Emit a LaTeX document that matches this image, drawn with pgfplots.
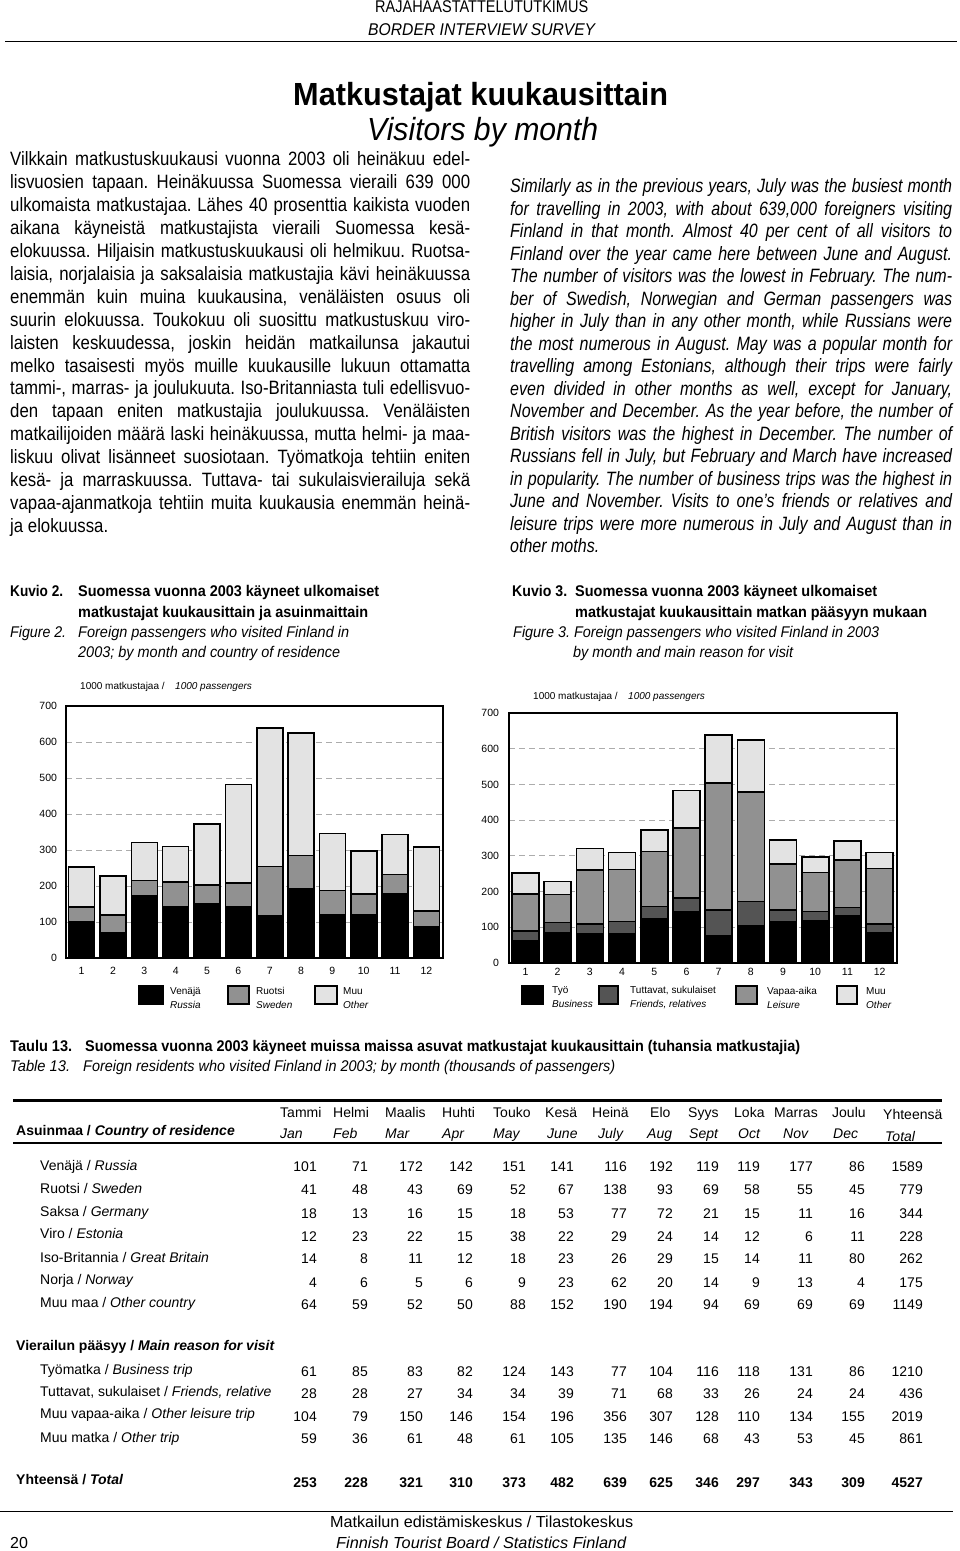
\documentclass[border=0pt]{standalone}
\usepackage{fontspec}
\usepackage{pgfplots}
\pgfplotsset{compat=1.18}
\setmainfont{Liberation Sans}
\newfontfamily\nar[FakeStretch=0.83]{Liberation Sans}
\newfontfamily\narl[FakeStretch=0.87]{Liberation Sans}
\frenchspacing
\definecolor{cgray}{gray}{0.57}
\definecolor{clight}{gray}{0.89}
\definecolor{cdark}{gray}{0.33}
\newsavebox\lbox
\newcommand\fitline[2]{\sbox\lbox{#2}\ifdim\wd\lbox>#1\relax\resizebox{#1}{\ht\lbox}{\usebox\lbox}\else\makebox[#1][s]{#2}\fi}
\newcommand\bodyfont{\fontsize{19.3}{22}\selectfont\nar\frenchspacing}
\newcommand\lbodyfont{\fontsize{19.3}{22}\selectfont\narl\frenchspacing}
\newcommand\lline[2]{\node[anchor=base west,inner sep=0pt,font=\lbodyfont] at (10,#1) {\fitline{460pt}{#2}};}
\newcommand\llast[2]{\node[anchor=base west,inner sep=0pt,font=\lbodyfont] at (10,#1) {#2};}
\newcommand\rline[2]{\node[anchor=base west,inner sep=0pt,font=\bodyfont\itshape] at (510,#1) {\fitline{442pt}{#2}};}
\newcommand\rlast[2]{\node[anchor=base west,inner sep=0pt,font=\bodyfont\itshape] at (510,#1) {#2};}
\newcommand\wtext[4]{\node[anchor=base west,inner sep=0pt,font=#4] at (#1) {\resizebox{#2}{\height}{#3}};}
\newcommand\tfont{\fontsize{14}{16}\selectfont}
\newcommand\trow[6]{%
  \node[anchor=base west,inner sep=0pt,font=\tfont#6] at (40,#1) {#3};
  \foreach \v [count=\i] in {#4} {%
    \pgfmathsetmacro\xx{{317,368,423,473,526,574,627,673,719,760,813,865,923}[\i-1]}
    \node[anchor=base east,inner sep=0pt,font=\tfont#6] at (\xx,#2) {\v};}
}
\begin{document}
\begin{tikzpicture}[x=1pt,y=-1pt]
\path[use as bounding box] (0,0) rectangle (960,1551);
% header
\wtext{375,12}{213pt}{RAJAHAASTATTELUTUTKIMUS}{\fontsize{17}{20}\selectfont\nar}
\wtext{368,35}{227pt}{BORDER INTERVIEW SURVEY}{\fontsize{17}{20}\selectfont\nar\itshape}
\draw[line width=1pt] (5,41) -- (957,41);
% title
\wtext{293,105}{375pt}{Matkustajat kuukausittain}{\fontsize{32}{36}\selectfont\bfseries}
\wtext{367,140}{231pt}{Visitors by month}{\fontsize{32}{36}\selectfont\itshape}
% left text
\lline{165.5}{Vilkkain matkustuskuukausi vuonna 2003 oli heinäkuu edel-}
\lline{188.4}{lisvuosien tapaan. Heinäkuussa Suomessa vieraili 639 000}
\lline{211.4}{ulkomaista matkustajaa. Lähes 40 prosenttia kaikista vuoden}
\lline{234.3}{aikana käyneistä matkustajista vieraili Suomessa kesä-}
\lline{257.3}{elokuussa. Hiljaisin matkustuskuukausi oli helmikuu. Ruotsa-}
\lline{280.2}{laisia, norjalaisia ja saksalaisia matkustajia kävi heinäkuussa}
\lline{303.1}{enemmän kuin muina kuukausina, venäläisten osuus oli}
\lline{326.1}{suurin elokuussa. Toukokuu oli suosittu matkustuskuu viro-}
\lline{349.0}{laisten keskuudessa, joskin heidän matkailunsa jakautui}
\lline{372.0}{melko tasaisesti myös muille kuukausille lukuun ottamatta}
\lline{394.9}{tammi-, marras- ja joulukuuta. Iso-Britanniasta tuli edellisvuo-}
\lline{417.8}{den tapaan eniten matkustajia joulukuussa. Venäläisten}
\lline{440.8}{matkailijoiden määrä laski heinäkuussa, mutta helmi- ja maa-}
\lline{463.7}{liskuu olivat lisänneet suosiotaan. Työmatkoja tehtiin eniten}
\lline{486.7}{kesä- ja marraskuussa. Tuttava- tai sukulaisvierailuja sekä}
\lline{509.6}{vapaa-ajanmatkoja tehtiin muita kuukausia enemmän heinä-}
\llast{532.5}{ja elokuussa.}
% right text
\rline{192.5}{Similarly as in the previous years, July was the busiest month}
\rline{215}{for travelling in 2003, with about 639,000 foreigners visiting}
\rline{237.5}{Finland in that month. Almost 40 per cent of all visitors to}
\rline{260}{Finland over the year came here between June and August.}
\rline{282.5}{The number of visitors was the lowest in February. The num-}
\rline{305}{ber of Swedish, Norwegian and German passengers was}
\rline{327.5}{higher in July than in any other month, while Russians were}
\rline{350}{the most numerous in August. May was a popular month for}
\rline{372.5}{travelling among Estonians, although their trips were fairly}
\rline{395}{even divided in other months as well, except for January,}
\rline{417.5}{November and December. As the year before, the number of}
\rline{440}{British visitors was the highest in December. The number of}
\rline{462.5}{Russians fell in July, but February and March have increased}
\rline{485}{in popularity. The number of business trips was the highest in}
\rline{507.5}{June and November. Visits to one’s friends or relatives and}
\rline{530}{leisure trips were more numerous in July and August than in}
\rlast{552.5}{other moths.}
% captions
\wtext{10,596}{53pt}{Kuvio 2.}{\fontsize{15.5}{18}\selectfont\nar\bfseries}
\wtext{78,596}{301pt}{Suomessa vuonna 2003 käyneet ulkomaiset}{\fontsize{15.5}{18}\selectfont\nar\bfseries}
\wtext{78,617}{290pt}{matkustajat kuukausittain ja asuinmaittain}{\fontsize{15.5}{18}\selectfont\nar\bfseries}
\wtext{10,637}{56pt}{Figure 2.}{\fontsize{15.5}{18}\selectfont\nar\itshape}
\wtext{78,637}{271pt}{Foreign passengers who visited Finland in}{\fontsize{15.5}{18}\selectfont\nar\itshape}
\wtext{78,657}{262pt}{2003; by month and country of residence}{\fontsize{15.5}{18}\selectfont\nar\itshape}
\wtext{512,596}{55pt}{Kuvio 3.}{\fontsize{15.5}{18}\selectfont\nar\bfseries}
\wtext{575,596}{302pt}{Suomessa vuonna 2003 käyneet ulkomaiset}{\fontsize{15.5}{18}\selectfont\nar\bfseries}
\wtext{575,617}{352pt}{matkustajat kuukausittain matkan pääsyyn mukaan}{\fontsize{15.5}{18}\selectfont\nar\bfseries}
\wtext{513,637}{366pt}{Figure 3. Foreign passengers who visited Finland in 2003}{\fontsize{15.5}{18}\selectfont\nar\itshape}
\wtext{573,657}{220pt}{by month and main reason for visit}{\fontsize{15.5}{18}\selectfont\nar\itshape}
% chart 1
\node[anchor=base west,inner sep=0pt,font=\fontsize{10}{12}\selectfont] at (80,689) {1000 matkustajaa /};
\node[anchor=base west,inner sep=0pt,font=\fontsize{10}{12}\selectfont\itshape] at (175,689) {1000 passengers};
\begin{axis}[
  at={(66pt,-958pt)}, anchor=south west,
  scale only axis, width=377pt, height=252pt,
  xmin=0.5, xmax=12.53, ymin=0, ymax=700,
  ybar stacked, bar width=26pt,
  xtick={1,2,...,12}, ytick={0,100,...,700},
  major tick length=0pt,
  ymajorgrids=true,
  grid style={gray!65, dash pattern=on 6pt off 4pt, line width=0.8pt},
  axis line style={line width=1.3pt},
  ticklabel style={font=\fontsize{10.5}{12}\selectfont},
  /pgf/number format/assume math mode=true,
  yticklabel style={xshift=-5.5pt},
  xticklabel style={yshift=-6pt},
]
\addplot[fill=black, draw=black, line width=1.6pt] coordinates {(1,101) (2,71) (3,172) (4,142) (5,151) (6,141) (7,116) (8,192) (9,119) (10,119) (11,177) (12,86)};
\addplot[fill=cgray, draw=black, line width=1.6pt] coordinates {(1,41) (2,48) (3,43) (4,69) (5,52) (6,67) (7,138) (8,93) (9,69) (10,58) (11,55) (12,45)};
\addplot[fill=clight, draw=black, line width=1.6pt] coordinates {(1,111) (2,109) (3,106) (4,99) (5,170) (6,274) (7,385) (8,340) (9,158) (10,120) (11,111) (12,178)};
\end{axis}
% legend 1
\draw[fill=black, line width=1.2pt] (139,986) rectangle (163,1004);
\draw[fill=cgray, line width=1.2pt] (228,986) rectangle (249,1004);
\draw[fill=clight, line width=1.2pt] (315,986) rectangle (337,1004);
\node[anchor=base west,inner sep=0pt,font=\fontsize{10}{12}\selectfont] at (170,994) {Venäjä};
\node[anchor=base west,inner sep=0pt,font=\fontsize{10}{12}\selectfont\itshape] at (170,1008) {Russia};
\node[anchor=base west,inner sep=0pt,font=\fontsize{10}{12}\selectfont] at (256,994) {Ruotsi};
\node[anchor=base west,inner sep=0pt,font=\fontsize{10}{12}\selectfont\itshape] at (256,1008) {Sweden};
\node[anchor=base west,inner sep=0pt,font=\fontsize{10}{12}\selectfont] at (343,994) {Muu};
\node[anchor=base west,inner sep=0pt,font=\fontsize{10}{12}\selectfont\itshape] at (343,1008) {Other};
% chart 2
\node[anchor=base west,inner sep=0pt,font=\fontsize{10}{12}\selectfont] at (533,699) {1000 matkustajaa /};
\node[anchor=base west,inner sep=0pt,font=\fontsize{10}{12}\selectfont\itshape] at (628,699) {1000 passengers};
\begin{axis}[
  at={(509pt,-963pt)}, anchor=south west,
  scale only axis, width=388pt, height=250pt,
  xmin=0.49, xmax=12.54, ymin=0, ymax=700,
  ybar stacked, bar width=27pt,
  xtick={1,2,...,12}, ytick={0,100,...,700},
  major tick length=0pt,
  ymajorgrids=true,
  grid style={gray!65, dash pattern=on 6pt off 4pt, line width=0.8pt},
  axis line style={line width=1.3pt},
  ticklabel style={font=\fontsize{10.5}{12}\selectfont},
  /pgf/number format/assume math mode=true,
  yticklabel style={xshift=-6.5pt},
  xticklabel style={yshift=-2pt},
]
\addplot[fill=black, draw=black, line width=1.6pt] coordinates {(1,61) (2,85) (3,83) (4,82) (5,124) (6,143) (7,77) (8,104) (9,116) (10,118) (11,131) (12,86)};
\addplot[fill=cdark, draw=black, line width=1.6pt] coordinates {(1,28) (2,28) (3,27) (4,34) (5,34) (6,39) (7,71) (8,68) (9,33) (10,26) (11,24) (12,24)};
\addplot[fill=cgray, draw=black, line width=1.6pt] coordinates {(1,104) (2,79) (3,150) (4,146) (5,154) (6,196) (7,356) (8,307) (9,128) (10,110) (11,134) (12,155)};
\addplot[fill=clight, draw=black, line width=1.6pt] coordinates {(1,59) (2,36) (3,61) (4,48) (5,61) (6,105) (7,135) (8,146) (9,68) (10,43) (11,53) (12,45)};
\end{axis}
% legend 2
\draw[fill=black, line width=1.2pt] (522,986) rectangle (543,1004);
\draw[fill=cdark, line width=1.2pt] (599,986) rectangle (618,1004);
\draw[fill=cgray, line width=1.2pt] (736,986) rectangle (757,1004);
\draw[fill=clight, line width=1.2pt] (837,986) rectangle (857,1004);
\node[anchor=base west,inner sep=0pt,font=\fontsize{10}{12}\selectfont] at (552,993) {Työ};
\node[anchor=base west,inner sep=0pt,font=\fontsize{10}{12}\selectfont\itshape] at (552,1007) {Business};
\node[anchor=base west,inner sep=0pt,font=\fontsize{10}{12}\selectfont] at (630,993) {Tuttavat, sukulaiset};
\node[anchor=base west,inner sep=0pt,font=\fontsize{10}{12}\selectfont\itshape] at (630,1007) {Friends, relatives};
\node[anchor=base west,inner sep=0pt,font=\fontsize{10}{12}\selectfont] at (767,994) {Vapaa-aika};
\node[anchor=base west,inner sep=0pt,font=\fontsize{10}{12}\selectfont\itshape] at (767,1008) {Leisure};
\node[anchor=base west,inner sep=0pt,font=\fontsize{10}{12}\selectfont] at (866,994) {Muu};
\node[anchor=base west,inner sep=0pt,font=\fontsize{10}{12}\selectfont\itshape] at (866,1008) {Other};
% table caption
\wtext{10,1051}{62pt}{Taulu 13.}{\fontsize{15.5}{18}\selectfont\nar\bfseries}
\wtext{85,1051}{715pt}{Suomessa vuonna 2003 käyneet muissa maissa asuvat matkustajat kuukausittain (tuhansia matkustajia)}{\fontsize{15.5}{18}\selectfont\nar\bfseries}
\wtext{10,1071}{60pt}{Table 13.}{\fontsize{15.5}{18}\selectfont\nar\itshape}
\wtext{83,1071}{532pt}{Foreign residents who visited Finland in 2003; by month (thousands of passengers)}{\fontsize{15.5}{18}\selectfont\nar\itshape}
% table
\draw[line width=3pt] (13,1100) -- (942,1100);
\draw[line width=1.5pt] (13,1143) -- (942,1143);
\node[anchor=base west,inner sep=0pt,font=\tfont\bfseries] at (16,1135) {Asuinmaa / \textit{Country of residence}};
\foreach \a/\b/\c/\d in {280/Tammi/280/Jan, 333/Helmi/333/Feb, 385/Maalis/385/Mar, 442/Huhti/442/Apr, 493/Touko/493/May, 545/Kesä/547/June, 592/Heinä/598/July, 650/Elo/647/Aug, 688/Syys/689/Sept, 734/Loka/738/Oct, 774/Marras/783/Nov, 832/Joulu/833/Dec} {
  \node[anchor=base west,inner sep=0pt,font=\tfont] at (\a,1117) {\b};
  \node[anchor=base west,inner sep=0pt,font=\tfont\itshape] at (\c,1138) {\d};
}
\node[anchor=base west,inner sep=0pt,font=\tfont] at (883,1119) {Yhteensä};
\node[anchor=base west,inner sep=0pt,font=\tfont\itshape] at (885,1141) {Total};
\trow{1170}{1171}{Venäjä / \textit{Russia}}{101,71,172,142,151,141,116,192,119,119,177,86,1589}{}{}
\trow{1193}{1194}{Ruotsi / \textit{Sweden}}{41,48,43,69,52,67,138,93,69,58,55,45,779}{}{}
\trow{1216}{1218}{Saksa / \textit{Germany}}{18,13,16,15,18,53,77,72,21,15,11,16,344}{}{}
\trow{1238}{1241}{Viro / \textit{Estonia}}{12,23,22,15,38,22,29,24,14,12,6,11,228}{}{}
\trow{1262}{1263}{Iso-Britannia / \textit{Great Britain}}{14,8,11,12,18,23,26,29,15,14,11,80,262}{}{}
\trow{1284}{1287}{Norja / \textit{Norway}}{4,6,5,6,9,23,62,20,14,9,13,4,175}{}{}
\trow{1307}{1309}{Muu maa / \textit{Other country}}{64,59,52,50,88,152,190,194,94,69,69,69,1149}{}{}
\node[anchor=base west,inner sep=0pt,font=\tfont\bfseries] at (16,1350) {Vierailun pääsyy / \textit{Main reason for visit}};
\trow{1374}{1376}{Työmatka / \textit{Business trip}}{61,85,83,82,124,143,77,104,116,118,131,86,1210}{}{}
\trow{1396}{1398}{Tuttavat, sukulaiset / \textit{Friends, relative}}{28,28,27,34,34,39,71,68,33,26,24,24,436}{}{}
\trow{1418}{1421}{Muu vapaa-aika / \textit{Other leisure trip}}{104,79,150,146,154,196,356,307,128,110,134,155,2019}{}{}
\trow{1442}{1443}{Muu matka / \textit{Other trip}}{59,36,61,48,61,105,135,146,68,43,53,45,861}{}{}
\node[anchor=base west,inner sep=0pt,font=\tfont\bfseries] at (16,1484) {Yhteensä / \textit{Total}};
\foreach \v [count=\i] in {253,228,321,310,373,482,639,625,346,297,343,309,4527} {%
  \pgfmathsetmacro\xx{{317,368,423,473,526,574,627,673,719,760,813,865,923}[\i-1]}
  \node[anchor=base east,inner sep=0pt,font=\tfont\bfseries] at (\xx,1487) {\v};}
% footer
\draw[line width=1pt] (0,1511) -- (953,1511);
\wtext{330,1527}{303pt}{Matkailun edistämiskeskus / Tilastokeskus}{\fontsize{16}{18}\selectfont}
\wtext{336,1548}{290pt}{Finnish Tourist Board / Statistics Finland}{\fontsize{16}{18}\selectfont\itshape}
\node[anchor=base west,inner sep=0pt,font=\fontsize{16}{18}\selectfont] at (10,1548) {20};
\end{tikzpicture}
\end{document}
